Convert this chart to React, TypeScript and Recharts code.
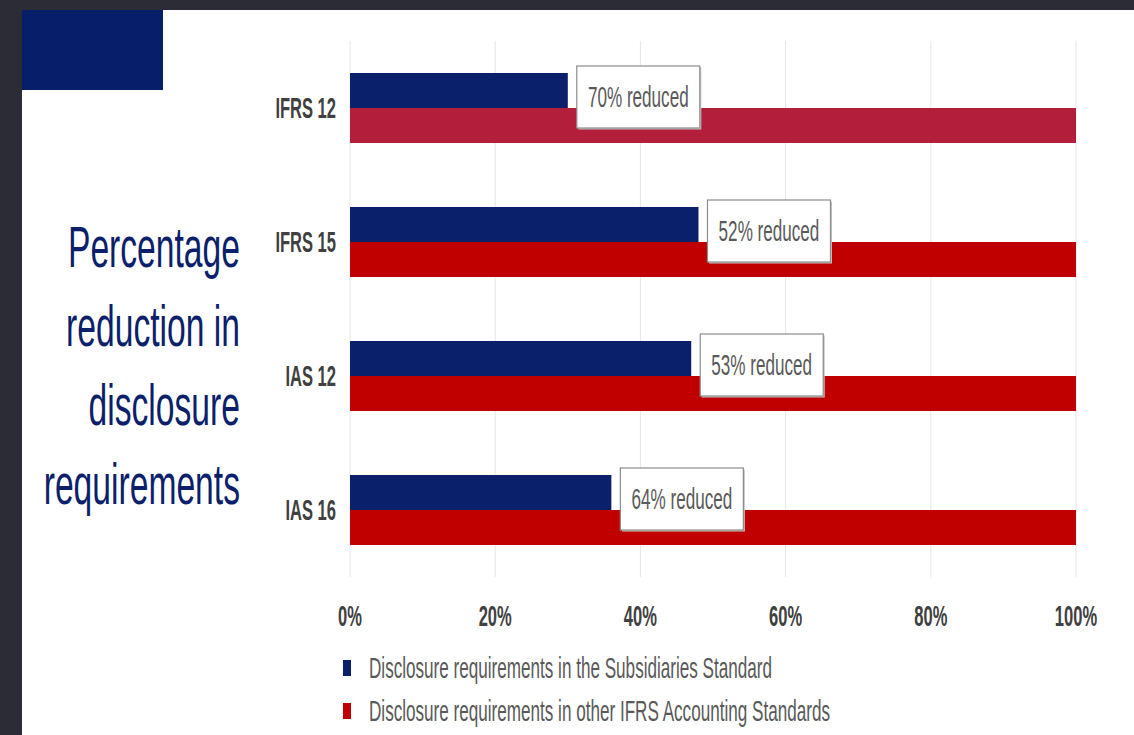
import { BarChart, Bar, XAxis, YAxis, CartesianGrid, Cell, LabelList, Legend } from "recharts";

const standards = ["IFRS 12", "IFRS 15", "IAS 12", "IAS 16"];
const subsidiariesPct = [30, 48, 47, 36];
const otherPct = [100, 100, 100, 100];
const reducedPct = [70, 52, 53, 64];
const xTicks = [0, 20, 40, 60, 80, 100];
const seriesNames = [
  "Disclosure requirements in the Subsidiaries Standard",
  "Disclosure requirements in other IFRS Accounting Standards",
];
const titleLines = ["Percentage", "reduction in", "disclosure", "requirements"];

const data = standards.map((name, i) => ({
  name,
  subsidiaries: subsidiariesPct[i],
  other: otherPct[i],
  reduced: reducedPct[i],
}));

const FONT = '"Liberation Sans", Arial, sans-serif';
const SQ = 0.57; // text in the slide is squashed horizontally
const NAVY = "#0a206b";
const RED = "#c00000";
const RED_FIRST = "#b31f3b";

const YTick = ({ x, y, payload }: any) => (
  <text
    transform={`translate(${x},${y}) scale(${SQ},1)`}
    textAnchor="end"
    dominantBaseline="central"
    fontFamily={FONT}
    fontWeight="bold"
    fontSize={29}
    fill="#404040"
  >
    {payload.value}
  </text>
);

const XTick = ({ x, y, payload }: any) => (
  <text
    transform={`translate(${x},${y + 39}) scale(${SQ},1)`}
    textAnchor="middle"
    dominantBaseline="central"
    fontFamily={FONT}
    fontWeight="bold"
    fontSize={29}
    fill="#404040"
  >
    {payload.value}%
  </text>
);

// box sits just right of the blue bar, drawn from the red bar so it stays on top
const ReducedLabel = (props: any) => {
  const { x, y, width, height, value, index } = props;
  const row = data[index];
  const blueEnd = Number(x) + (Number(width) * row.subsidiaries) / row.other;
  const bx = blueEnd + 9;
  const by = Number(y) - Number(height) - 7;
  return (
    <g>
      <rect x={bx + 1.5} y={by + 1.5} width={123} height={62} fill="#c4c4c4" />
      <rect x={bx} y={by} width={123} height={62} fill="#fff" stroke="#8c8c8c" strokeWidth={1.2} />
      <text
        transform={`translate(${bx + 61.5},${by + 31}) scale(${SQ},1)`}
        textAnchor="middle"
        dominantBaseline="central"
        fontFamily={FONT}
        fontSize={30}
        fill="#595959"
      >
        {value}% reduced
      </text>
    </g>
  );
};

const LegendBox = ({ payload }: any) => {
  const items = [...(payload || [])].sort(
    (a: any, b: any) => seriesNames.indexOf(a.value) - seriesNames.indexOf(b.value)
  );
  return (
    <div style={{ fontFamily: FONT }}>
      {items.map((p: any) => (
        <div key={p.value} style={{ height: 43, display: "flex", alignItems: "center" }}>
          <span style={{ width: 8, height: 16, background: p.color, marginRight: 18, flex: "none" }} />
          <span
            style={{
              fontSize: 30,
              color: "#595959",
              whiteSpace: "nowrap",
              display: "inline-block",
              transform: `scaleX(${SQ})`,
              transformOrigin: "left center",
            }}
          >
            {p.value}
          </span>
        </div>
      ))}
    </div>
  );
};

export default function App() {
  return (
    <div style={{ position: "fixed", left: 0, top: 0, width: 1134, height: 735, background: "#2c2c36", overflow: "hidden" }}>
      <div style={{ position: "absolute", left: 22, top: 10, right: 0, bottom: 0, background: "#fff" }} />
      <div style={{ position: "absolute", left: 22, top: 10, width: 141, height: 80, background: "#071f6b" }} />
      <div
        style={{
          position: "absolute",
          right: 1134 - 240,
          top: 207,
          width: 500,
          textAlign: "right",
          fontFamily: FONT,
          fontSize: 58,
          lineHeight: "79px",
          color: "#0c1f6b",
          transform: `scaleX(0.58)`,
          transformOrigin: "right top",
          whiteSpace: "nowrap",
        }}
      >
        {titleLines.map((t) => (
          <div key={t}>{t}</div>
        ))}
      </div>
      <div style={{ position: "absolute", left: 0, top: 0 }}>
        <BarChart
          width={1134}
          height={735}
          data={data}
          layout="vertical"
          margin={{ top: 41, right: 58, bottom: 118, left: 0 }}
          barGap={0}
        >
          <CartesianGrid horizontal={false} stroke="#e6e6e6" />
          <XAxis
            type="number"
            domain={[0, 100]}
            ticks={xTicks}
            axisLine={false}
            tickLine={false}
            tickSize={0}
            tickMargin={0}
            height={40}
            tick={<XTick />}
            interval={0}
          />
          <YAxis
            type="category"
            dataKey="name"
            width={350}
            axisLine={false}
            tickLine={false}
            tickSize={0}
            tickMargin={14}
            tick={<YTick />}
          />
          <Legend
            verticalAlign="middle"
            align="center"
            layout="horizontal"
            wrapperStyle={{ top: 646, left: 343, width: 600 }}
            content={<LegendBox />}
          />
          <Bar dataKey="subsidiaries" name={seriesNames[0]} fill={NAVY} barSize={35} isAnimationActive={false} />
          <Bar dataKey="other" name={seriesNames[1]} fill={RED} barSize={35} isAnimationActive={false}>
            {data.map((_, i) => (
              <Cell key={`c-${i}`} fill={i === 0 ? RED_FIRST : RED} />
            ))}
            <LabelList dataKey="reduced" content={<ReducedLabel />} />
          </Bar>
        </BarChart>
      </div>
    </div>
  );
}
